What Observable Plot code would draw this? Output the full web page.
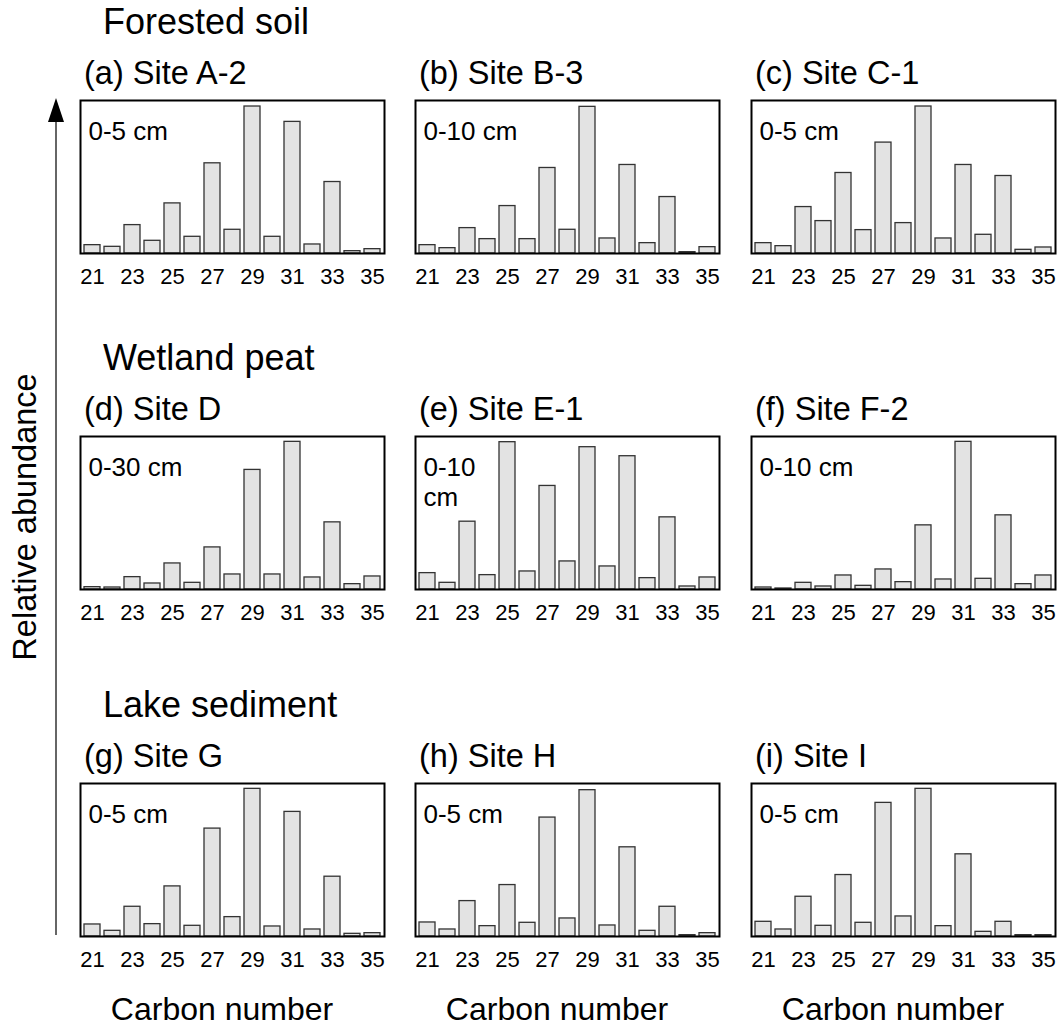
<!DOCTYPE html>
<html>
<head>
<meta charset="utf-8">
<script src="https://cdn.jsdelivr.net/npm/d3@7"></script>
<script src="https://cdn.jsdelivr.net/npm/@observablehq/plot@0.6"></script>
<style>
  html, body { margin: 0; padding: 0; background: #fff; }
  #page { position: relative; width: 1063px; height: 1027px; overflow: hidden; font-family: "Liberation Sans", Arial, sans-serif; }
  .panel { position: absolute; }
  .panel g[aria-label="x-axis tick label"] { font-size: 22px !important; }
  #overlay { position: absolute; left: 0; top: 0; }
</style>
</head>
<body>
<div id="page"></div>
<script>
// Carbon numbers (n-alkane chain length)
const carbons = [21,22,23,24,25,26,27,28,29,30,31,32,33,34,35];

// Relative abundance (arbitrary units) per site, in order of carbons
const siteA2 = [25,20,85,38,150,50,270,71,440,50,394,27,214,7,13];
const siteB3 = [25,16,76,43,142,43,256,71,439,45,265,31,169,4,19];
const siteC1 = [31,22,139,97,241,70,332,91,440,45,265,56,232,11,18];
const siteD  = [7,6,37,18,78,20,126,45,358,45,442,36,201,16,39];
const siteE1 = [49,20,203,43,441,54,310,84,426,69,399,34,216,9,36];
const siteF2 = [6,3,20,9,42,11,60,22,192,30,442,32,222,16,42];
const siteG  = [36,17,89,37,150,32,323,58,442,30,373,21,179,8,10];
const siteH  = [42,21,106,31,154,41,356,54,438,33,267,17,89,4,10];
const siteI  = [44,21,119,32,184,41,400,60,442,31,246,14,44,4,4];

// Labels
const groupTitles = ["Forested soil", "Wetland peat", "Lake sediment"];
const panelTitles = ["(a) Site A-2","(b) Site B-3","(c) Site C-1","(d) Site D","(e) Site E-1","(f) Site F-2","(g) Site G","(h) Site H","(i) Site I"];
const depthLabels = ["0-5 cm","0-10 cm","0-5 cm","0-30 cm","0-10\ncm","0-10 cm","0-5 cm","0-5 cm","0-5 cm"];
const seriesList = [siteA2, siteB3, siteC1, siteD, siteE1, siteF2, siteG, siteH, siteI];
const yMax = 458;
const xLabel = "Carbon number";
const yLabel = "Relative abundance";

// Layout
const colLeft = [80, 415, 751];
const rowTop = [100, 436, 783];
const boxW = 304, boxH = 153;
const m = 2, mb = 45;
const FONT = '"Liberation Sans", Arial, Helvetica, sans-serif';

const page = document.getElementById("page");

seriesList.forEach((vals, k) => {
  const r = Math.floor(k / 3), c = k % 3;
  const data = carbons.map((cn, i) => ({c: cn, v: vals[i]}));
  const chart = Plot.plot({
    width: boxW + 2 * m,
    height: boxH + m + mb,
    marginLeft: m, marginRight: m, marginTop: m, marginBottom: mb,
    x: {type: "band", domain: carbons, paddingInner: 0.2, paddingOuter: 0.1, label: null},
    y: {domain: [0, yMax], axis: null},
    style: {fontFamily: FONT, fontSize: "22px", background: "transparent", color: "#000", overflow: "visible"},
    marks: [
      Plot.barY(data, {x: "c", y: "v", fill: "#e3e3e3", stroke: "#333", strokeWidth: 1.3}),
      Plot.frame({stroke: "#000", strokeWidth: 2}),
      Plot.axisX({tickSize: 0, tickPadding: 15, fontSize: 22, tickFormat: d => (d % 2 ? String(d) : ""), label: null, fill: "#000"}),
      Plot.text([depthLabels[k]], {text: d => d, frameAnchor: "top-left", textAnchor: "start", lineAnchor: "top", dx: 8, dy: 18, fontSize: 26, lineHeight: 1.15, fill: "#000"})
    ]
  });
  chart.classList.add("panel");
  chart.style.left = (colLeft[c] - m) + "px";
  chart.style.top = (rowTop[r] - m) + "px";
  page.appendChild(chart);
});

// Overlay for titles, axis arrow and axis labels
const svg = d3.select(page).append("svg")
  .attr("id", "overlay").attr("width", 1063).attr("height", 1027)
  .style("font-family", FONT);

groupTitles.forEach((t, r) => {
  svg.append("text").attr("x", 103).attr("y", rowTop[r] - 66)
    .attr("font-size", 36).attr("fill", "#000").text(t);
});
panelTitles.forEach((t, k) => {
  const r = Math.floor(k / 3), c = k % 3;
  svg.append("text").attr("x", colLeft[c] + 4).attr("y", rowTop[r] - 16)
    .attr("font-size", 32.5).attr("fill", "#000").text(t);
});
colLeft.forEach(x => {
  svg.append("text").attr("x", x + boxW / 2 - 10).attr("y", 1020)
    .attr("text-anchor", "middle").attr("font-size", 32).attr("fill", "#000").text(xLabel);
});
// y axis arrow
svg.append("line").attr("x1", 56).attr("x2", 56).attr("y1", 935).attr("y2", 115)
  .attr("stroke", "#333").attr("stroke-width", 1.5);
svg.append("path").attr("d", "M56,98 L48,122 L64,122 Z").attr("fill", "#000");
svg.append("text").attr("transform", "translate(36,517) rotate(-90)")
  .attr("text-anchor", "middle").attr("font-size", 32.5).attr("fill", "#000").text(yLabel);
</script>
</body>
</html>
